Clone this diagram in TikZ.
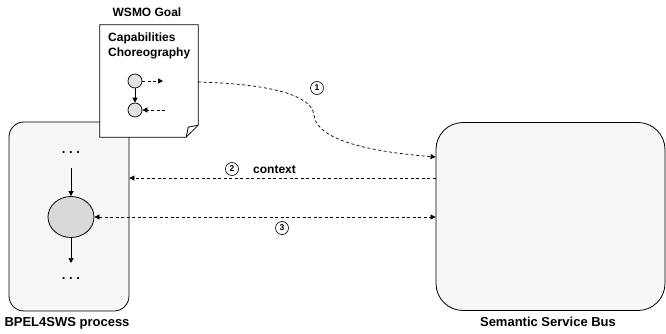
\documentclass[tikz,border=0pt]{standalone}
\usepackage{fontspec}
\setmainfont{Liberation Sans}
\usetikzlibrary{arrows.meta,calc,shapes.geometric}
\definecolor{boxfill}{HTML}{F7F7F7}
\definecolor{bigfill}{HTML}{D9D9D9}
\definecolor{smallfill}{HTML}{E2E2E2}
\begin{document}
\begin{tikzpicture}[x=1pt,y=-1pt,
  container/.style={draw, fill=boxfill, line width=0.8pt, inner sep=0pt},
  lbl/.style={font=\fontsize{13}{15}\selectfont\bfseries, inner sep=0pt, anchor=base},
  txt/.style={font=\fontsize{12}{14}\selectfont\bfseries, inner sep=0pt},
  num/.style={draw, circle, line width=0.6pt, minimum size=13pt, inner sep=0pt, font=\fontsize{8.5}{9}\selectfont\bfseries},
  tip/.style={-{Triangle[length=5pt,width=5pt]}},
  dsh/.style={dash pattern=on 3pt off 2.5pt, line width=0.7pt},
  flow/.style={line width=0.7pt, tip},
  dots/.style={font=\fontsize{13}{15}\selectfont\bfseries, inner sep=0pt, anchor=base}
]
\useasboundingbox (0,0) rectangle (666,334);

% BPEL4SWS process box
\node[container, rounded corners=15pt, minimum width=120pt, minimum height=189pt] (proc) at (69,216.5) {};
\node[lbl] (proclbl) at (67,326.5) {BPEL4SWS process};

% Semantic Service Bus box
\node[container, rounded corners=27pt, minimum width=229pt, minimum height=188pt] (bus) at (550.5,216.5) {};
\node[lbl] (buslbl) at (548,326.5) {Semantic Service Bus};

% process contents
\node[dots] (dtop) at (71,153) {.\ .\ .};
\node[dots] (dbot) at (71,279) {.\ .\ .};
\node[draw, ellipse, fill=bigfill, line width=0.8pt, minimum width=46pt, minimum height=41pt, inner sep=0pt] (act) at (71,217) {};
\coordinate (atop) at (71,168);
\coordinate (abot) at (71,263);
\draw[flow] (atop) -- (act.north);
\draw[flow] (act.south) -- (abot);

% WSMO Goal document
\node[txt] (goallbl) at (147,12) {WSMO Goal};
\node[inner sep=0pt, minimum width=98pt, minimum height=112pt] (goal) at (149,81) {};
\draw[fill=white, line width=0.8pt] (goal.north west) -- (goal.north east) -- ($(goal.south east)+(0,-12)$) -- ($(goal.south east)+(-12,0)$) -- (goal.south west) -- cycle;
\draw[line width=0.8pt] ($(goal.south east)+(-12,0)$) -- ($(goal.south east)+(-10,-10)$) -- ($(goal.south east)+(0,-12)$);
\node[txt, anchor=west] (cap) at (108,38) {Capabilities};
\node[txt, anchor=west] (chor) at (108,53) {Choreography};
\node[draw, circle, fill=smallfill, line width=0.7pt, minimum size=14pt, inner sep=0pt] (s1) at (135,81) {};
\node[draw, circle, fill=smallfill, line width=0.7pt, minimum size=14pt, inner sep=0pt] (s2) at (135,110) {};
\coordinate (s1out) at (163,81);
\coordinate (s2in) at (165,110);
\draw[flow] (s1) -- (s2);
\draw[flow, dsh] (s1) -- (s1out);
\draw[flow, dsh] (s2in) -- (s2);

% connector 1
\coordinate (c1a) at (goal.east |- 0,82);
\coordinate (c1m) at (314,115);
\coordinate (c1b) at (bus.west |- 0,157);
\draw[flow, dsh] (c1a) .. controls (270,84) and (312,95) .. (c1m)
  .. controls (316,135) and (350,150) .. (c1b);
\node[num] (n1) at (317,88) {1};

% connector 2 (context)
\coordinate (c2a) at (bus.west |- 0,178);
\coordinate (c2b) at (proc.east |- 0,178);
\draw[flow, dsh] (c2a) -- (c2b);
\node[num] (n2) at (232,169) {2};
\node[txt, anchor=west] (ctx) at (253,170) {context};

% connector 3
\coordinate (c3b) at (bus.west |- act.east);
\draw[line width=0.7pt, dsh, {Triangle[length=5pt,width=5pt]}-{Triangle[length=5pt,width=5pt]}] (act.east) -- (c3b);
\node[num] (n3) at (282,228) {3};
\end{tikzpicture}
\end{document}
